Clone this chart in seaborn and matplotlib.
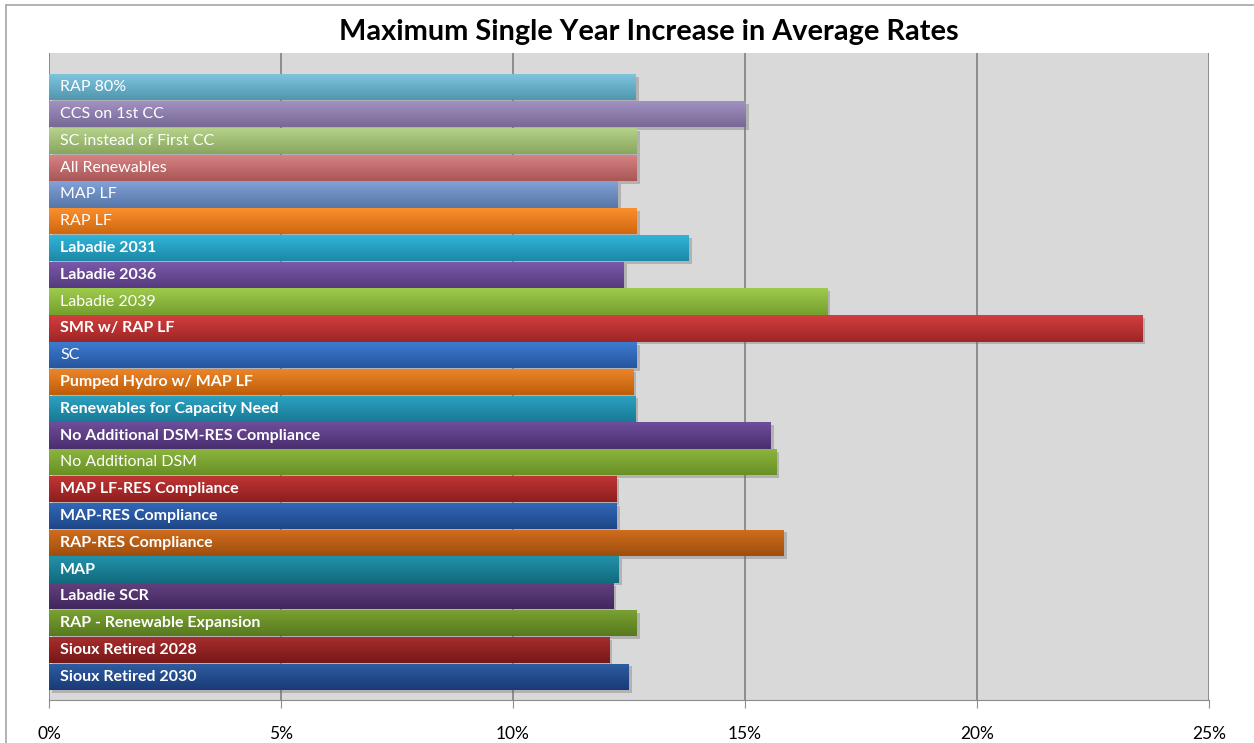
import numpy as np
import matplotlib
matplotlib.use("Agg")
import matplotlib.pyplot as plt
import matplotlib.patheffects as pe
from matplotlib.colors import to_rgb
from matplotlib.ticker import FuncFormatter
import seaborn as sns

# scenarios, top to bottom
scenarios = [
    "RAP 80%", "CCS on 1st CC", "SC instead of First CC", "All Renewables",
    "MAP LF", "RAP LF", "Labadie 2031", "Labadie 2036", "Labadie 2039",
    "SMR w/ RAP LF", "SC", "Pumped Hydro w/ MAP LF",
    "Renewables for Capacity Need", "No Additional DSM-RES Compliance",
    "No Additional DSM", "MAP LF-RES Compliance", "MAP-RES Compliance",
    "RAP-RES Compliance", "MAP", "Labadie SCR", "RAP - Renewable Expansion",
    "Sioux Retired 2028", "Sioux Retired 2030",
]
# max single year increase in average rates, %
increase = [
    12.65, 15.02, 12.67, 12.67, 12.26, 12.67, 13.79, 12.39, 16.77,
    23.56, 12.67, 12.59, 12.63, 15.56, 15.67, 12.22, 12.24,
    15.84, 12.28, 12.16, 12.67, 12.07, 12.50,
]

# gradient colours per bar (top, bottom)
top_colors = [
    "#80c6de", "#a293c4", "#b8d48c", "#da8484", "#82a2d8", "#fd9030",
    "#32b6da", "#7c5aaa", "#9ecb4c", "#d23e3e", "#3e7cd2", "#ee862a",
    "#2ca2c2", "#6e4e9a", "#8cb63e", "#c23636", "#3268ba", "#d26e1e",
    "#2292aa", "#62427f", "#7aa232", "#aa2e2e", "#2e5ea2",
]
bottom_colors = [
    "#5096ae", "#786896", "#88a65e", "#a85656", "#5676a8", "#ce680e",
    "#1c88a6", "#563a7e", "#76a02e", "#9e2626", "#26569e", "#be5e0a",
    "#187a96", "#4a2e6e", "#689026", "#8e1e1e", "#1e4686", "#9e4e0e",
    "#126a7e", "#42265e", "#587a1e", "#761818", "#1a3a76",
]
regular_labels = {"RAP 80%", "CCS on 1st CC", "SC instead of First CC",
                  "All Renewables", "MAP LF", "RAP LF", "Labadie 2039", "SC",
                  "No Additional DSM"}

sns.set_style("white")
plt.rcParams['font.family'] = ['Lato', 'DejaVu Sans']

fig = plt.figure(figsize=(12.54, 7.43), dpi=100)
ax = fig.add_axes([49 / 1254, 1 - 700 / 743, 1160 / 1254, 647 / 743])
ax.set_facecolor("#d9d9d9")

sns.barplot(x=increase, y=scenarios, hue=scenarios, palette=top_colors,
            legend=False, orient="h", width=0.98, ax=ax, zorder=3,
            linewidth=0, edgecolor="none")

shadow = [pe.SimplePatchShadow(offset=(2, -2), shadow_rgbFace="#6a6a6a", alpha=0.35),
          pe.Normal()]
for patch, c0, c1 in zip(ax.patches, top_colors, bottom_colors):
    patch.set_path_effects(shadow)
    x0, y0 = patch.get_x(), patch.get_y()
    w, h = patch.get_width(), patch.get_height()
    grad = np.linspace(0, 1, 64)[:, None, None]
    img = (1 - grad) * np.array(to_rgb(c0)) + grad * np.array(to_rgb(c1))
    im = ax.imshow(img, extent=(x0, x0 + w, y0 + h, y0), origin="upper",
                   aspect="auto", zorder=4, interpolation="bilinear")
    im.set_clip_path(patch)

for i, name in enumerate(scenarios):
    ax.text(0.24, i, name, color="white", va="center", ha="left",
            fontsize=11.5, zorder=6,
            fontweight="normal" if name in regular_labels else "bold")

ax.set_xlim(0, 25)
ax.set_ylim(22.87, -1.28)
ax.set_xticks([0, 5, 10, 15, 20, 25])
ax.xaxis.set_major_formatter(FuncFormatter(lambda v, p: f"{v:.0f}%"))
ax.set_yticks([])
ax.set_ylabel("")
ax.set_xlabel("")
ax.grid(axis="x", color="#808080", linewidth=1.2, zorder=1)
ax.set_axisbelow(True)
for s in ["top", "right", "left"]:
    ax.spines[s].set_visible(False)
ax.spines["bottom"].set_color("#8c8c8c")
ax.tick_params(axis="x", direction="out", length=6, color="#8c8c8c",
               labelsize=12.5, labelcolor="black", pad=13, bottom=True)

fig.text(649 / 1254, 1 - 32 / 743, "Maximum Single Year Increase in Average Rates",
         ha="center", va="center", fontsize=20.8, fontweight="bold", color="black")

# outer chart frame
fig.add_artist(plt.Line2D([6 / 1254, 6 / 1254], [0, 1 - 5 / 743],
                          transform=fig.transFigure, color="#a6a6a6", lw=1.2))
fig.add_artist(plt.Line2D([6 / 1254, 1], [1 - 5 / 743, 1 - 5 / 743],
                          transform=fig.transFigure, color="#a6a6a6", lw=1.2))

fig.savefig("out.png", dpi=100)
